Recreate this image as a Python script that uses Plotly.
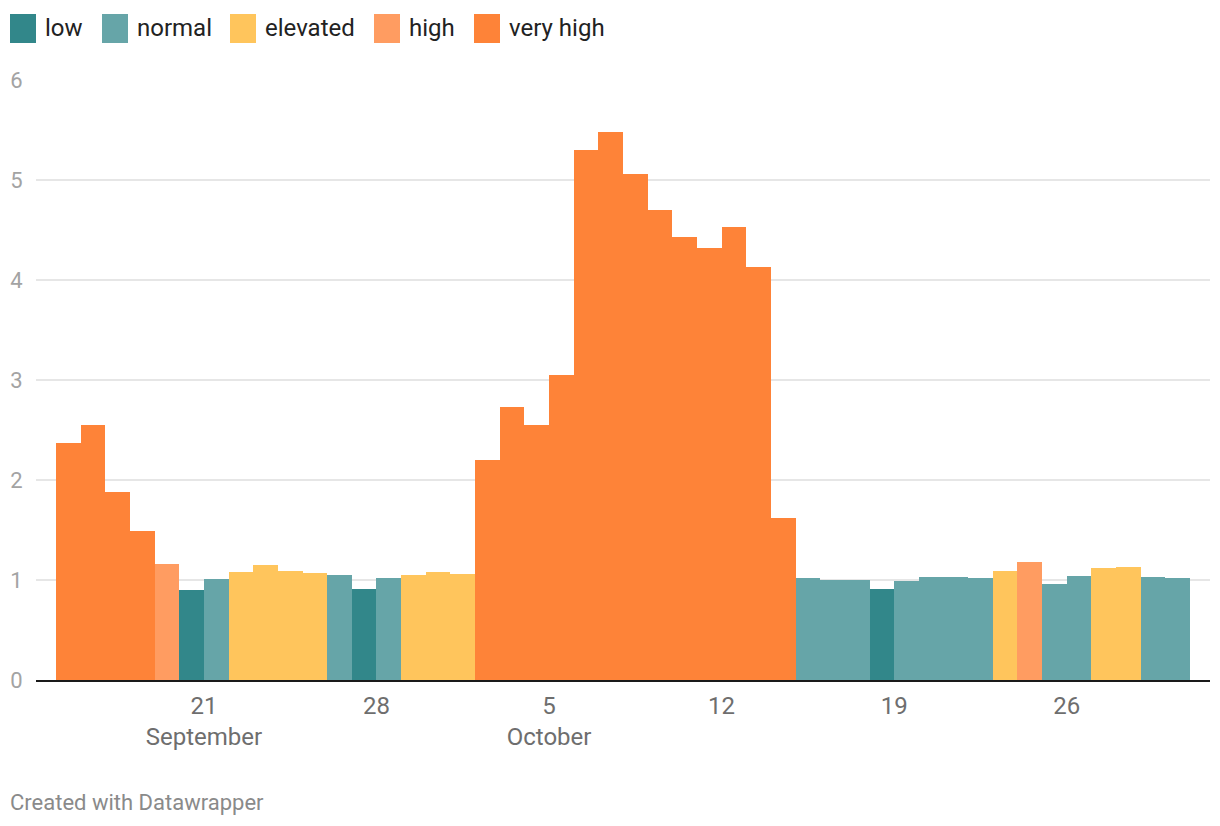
import plotly.graph_objects as go

# ---- data ----
days = [
    "2020-09-15", "2020-09-16", "2020-09-17", "2020-09-18", "2020-09-19", "2020-09-20",
    "2020-09-21", "2020-09-22", "2020-09-23", "2020-09-24", "2020-09-25", "2020-09-26",
    "2020-09-27", "2020-09-28", "2020-09-29", "2020-09-30", "2020-10-01", "2020-10-02",
    "2020-10-03", "2020-10-04", "2020-10-05", "2020-10-06", "2020-10-07", "2020-10-08",
    "2020-10-09", "2020-10-10", "2020-10-11", "2020-10-12", "2020-10-13", "2020-10-14",
    "2020-10-15", "2020-10-16", "2020-10-17", "2020-10-18", "2020-10-19", "2020-10-20",
    "2020-10-21", "2020-10-22", "2020-10-23", "2020-10-24", "2020-10-25", "2020-10-26",
    "2020-10-27", "2020-10-28", "2020-10-29", "2020-10-30",
]
values = [
    2.37, 2.55, 1.88, 1.49, 1.16, 0.90,
    1.01, 1.08, 1.15, 1.09, 1.07, 1.05,
    0.91, 1.02, 1.05, 1.08, 1.06, 2.20,
    2.73, 2.55, 3.05, 5.30, 5.48, 5.06,
    4.70, 4.43, 4.32, 4.53, 4.13, 1.62,
    1.02, 1.00, 1.00, 0.91, 0.99, 1.03,
    1.03, 1.02, 1.09, 1.18, 0.96, 1.04,
    1.12, 1.13, 1.03, 1.02,
]
levels = [
    "very high", "very high", "very high", "very high", "high", "low",
    "normal", "elevated", "elevated", "elevated", "elevated", "normal",
    "low", "normal", "elevated", "elevated", "elevated", "very high",
    "very high", "very high", "very high", "very high", "very high", "very high",
    "very high", "very high", "very high", "very high", "very high", "very high",
    "normal", "normal", "normal", "low", "normal", "normal",
    "normal", "normal", "elevated", "high", "normal", "normal",
    "elevated", "elevated", "normal", "normal",
]
level_names = ["low", "normal", "elevated", "high", "very high"]
level_colors = ["#32878a", "#66a5a8", "#ffc55c", "#ff9c61", "#fe8338"]

tick_dates = ["2020-09-21", "2020-09-28", "2020-10-05", "2020-10-12", "2020-10-19", "2020-10-26"]
tick_text = ["21<br>September", "28", "5<br>October", "12", "19", "26"]
y_ticks = [0, 1, 2, 3, 4, 5, 6]

# ---- figure ----
W, H = 1220, 826
ML, MR, MT, MB = 36, 10, 80, 146
PW, PH = W - ML - MR, H - MT - MB

def px_x(px):
    return (px - ML) / PW

def px_y(py):
    return (H - MB - py) / PH

DAY_MS = 86400000
color_map = dict(zip(level_names, level_colors))

fig = go.Figure()
fig.add_trace(go.Bar(
    x=days, y=values,
    marker=dict(color=[color_map[l] for l in levels], line=dict(width=0)),
    width=DAY_MS, xperiod=DAY_MS, xperiodalignment="middle",
    showlegend=False, hoverinfo="x+y",
))

# manual legend (large swatches like the original)
swatch_left = [10, 102, 230, 374, 474]
shapes = []
annotations = []
for name, col, sx in zip(level_names, level_colors, swatch_left):
    shapes.append(dict(type="rect", xref="paper", yref="paper",
                       x0=px_x(sx), x1=px_x(sx + 26), y0=px_y(43), y1=px_y(14),
                       fillcolor=col, line=dict(width=0), layer="above"))
    annotations.append(dict(text=name, xref="paper", yref="paper",
                            x=px_x(sx + 33), y=px_y(28.5), xanchor="left", yanchor="middle",
                            showarrow=False, font=dict(family="Roboto", size=24, color="#222222")))

annotations.append(dict(text="Created with Datawrapper", xref="paper", yref="paper",
                        x=px_x(8), y=px_y(802), xanchor="left", yanchor="middle",
                        showarrow=False, font=dict(family="Roboto", size=22, color="#8a8a8a")))

fig.update_layout(
    width=W, height=H, autosize=False,
    margin=dict(l=ML, r=MR, t=MT, b=MB, pad=0),
    paper_bgcolor="white", plot_bgcolor="white",
    barmode="overlay", bargap=0,
    font=dict(family="Roboto"),
    shapes=shapes, annotations=annotations,
    xaxis=dict(
        type="date",
        range=["2020-09-14 04:30", "2020-10-31 19:30"],
        tickmode="array", tickvals=tick_dates, ticktext=tick_text,
        showgrid=False, zeroline=False,
        showline=True, linecolor="#1a1a1a", linewidth=2,
        ticks="outside", ticklen=3, tickcolor="rgba(0,0,0,0)",
        tickfont=dict(family="Roboto", size=24, color="#6e6e6e"),
    ),
    yaxis=dict(
        range=[0, 6],
        tickmode="array", tickvals=y_ticks,
        showgrid=True, gridcolor="#e6e6e6", gridwidth=2,
        zeroline=False, showline=False,
        ticks="outside", ticklen=8, tickcolor="rgba(0,0,0,0)",
        tickfont=dict(family="Roboto", size=22, color="#a3a3a3"),
    ),
)

fig.write_html("out.html", config={"displayModeBar": False},
               post_script="document.body.style.margin='0px';")
